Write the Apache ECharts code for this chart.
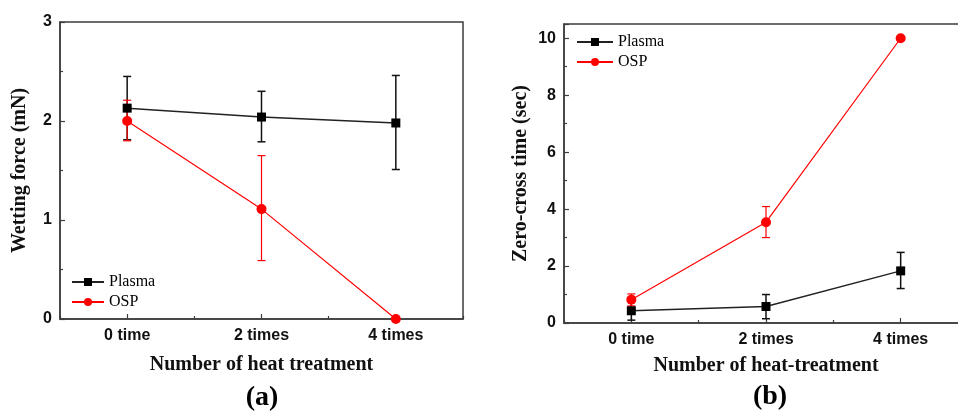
<!DOCTYPE html>
<html>
<head>
<meta charset="utf-8">
<script src="https://cdn.jsdelivr.net/npm/echarts@6/dist/echarts.min.js"></script>
<style>html,body{margin:0;padding:0;background:#fff;}#c{width:958px;height:415px;}</style>
</head>
<body>
<div id="c"></div>
<script>
const categories = ['0 time', '2 times', '4 times'];
// (a) Wetting force (mN)
const plasmaForce = [2.13, 2.04, 1.98];
const plasmaForceLow = [1.81, 1.79, 1.51];
const plasmaForceHigh = [2.45, 2.30, 2.46];
const ospForce = [2.00, 1.11, 0.00];
const ospForceLow = [1.80, 0.59, 0.00];
const ospForceHigh = [2.21, 1.65, 0.00];
// (b) Zero-cross time (sec)
const plasmaTime = [0.43, 0.58, 1.83];
const plasmaTimeLow = [0.10, 0.15, 1.21];
const plasmaTimeHigh = [0.78, 1.00, 2.48];
const ospTime = [0.82, 3.54, 10.0];
const ospTimeLow = [0.60, 3.00, 10.0];
const ospTimeHigh = [1.02, 4.09, 10.0];

const yTicksA = [0, 1, 2, 3];
const yTicksB = [0, 2, 4, 6, 8, 10];

const axisColor = '#3c3c3c';
const textColor = '#111';

function errData(lo, hi) {
  return lo.map((l, i) => [i, l, hi[i]]).filter(d => d[2] > d[1]);
}
function errRender(color, lw) {
  return function (params, api) {
    const x = api.value(0);
    const lo = api.coord([x, api.value(1)]);
    const hi = api.coord([x, api.value(2)]);
    const w = 4;
    const st = { stroke: color, lineWidth: lw };
    return {
      type: 'group',
      children: [
        { type: 'line', shape: { x1: lo[0], y1: lo[1], x2: hi[0], y2: hi[1] }, style: st },
        { type: 'line', shape: { x1: lo[0] - w, y1: lo[1], x2: lo[0] + w, y2: lo[1] }, style: st },
        { type: 'line', shape: { x1: hi[0] - w, y1: hi[1], x2: hi[0] + w, y2: hi[1] }, style: st }
      ]
    };
  };
}

function mainX(gridIndex, gap) {
  return {
    type: 'category', gridIndex: gridIndex, position: 'bottom', data: categories, boundaryGap: true,
    axisLine: { show: true, lineStyle: { color: axisColor, width: 1.5 } },
    axisTick: { show: true, inside: true, alignWithLabel: true, length: 5, lineStyle: { color: axisColor, width: 1.2 } },
    axisLabel: { color: textColor, fontFamily: 'Liberation Sans', fontWeight: 'bold', fontSize: 16, margin: 9 },
    name: gridIndex === 0 ? 'Number of heat treatment' : 'Number of heat-treatment',
    nameLocation: 'middle', nameGap: gap,
    nameTextStyle: { color: textColor, fontFamily: 'Liberation Serif', fontWeight: 'bold', fontSize: 20 },
    splitLine: { show: false }
  };
}
function minorX(gridIndex) {
  return {
    type: 'category', gridIndex: gridIndex, position: 'bottom', data: categories, boundaryGap: true,
    axisLine: { show: false },
    axisTick: { show: true, inside: true, length: 3, lineStyle: { color: axisColor, width: 1.2 } },
    axisLabel: { show: false },
    splitLine: { show: false }
  };
}
function yAx(gridIndex, max, interval, name, gap, ticks) {
  return {
    type: 'value', gridIndex: gridIndex, min: 0, max: max, interval: interval,
    axisLine: { show: true, lineStyle: { color: axisColor, width: 1.5 } },
    axisTick: { show: true, inside: true, length: 5, lineStyle: { color: axisColor, width: 1.2 } },
    minorTick: { show: true, splitNumber: 2, length: 3, lineStyle: { color: axisColor, width: 1.2 } },
    axisLabel: {
      color: textColor, fontFamily: 'Liberation Sans', fontWeight: 'bold', fontSize: 16, margin: 8,
      formatter: v => (ticks.indexOf(v) >= 0 ? String(v) : '')
    },
    splitLine: { show: false }, minorSplitLine: { show: false },
    name: name, nameLocation: 'middle', nameGap: gap,
    nameTextStyle: { color: textColor, fontFamily: 'Liberation Serif', fontWeight: 'bold', fontSize: 20 }
  };
}

const legendText = { color: '#000', fontFamily: 'Liberation Serif', fontSize: 16 };

const option = {
  animation: false,
  backgroundColor: '#fff',
  grid: [
    { left: 60, top: 22, width: 403, height: 297, show: true, borderColor: axisColor, borderWidth: 1.5, backgroundColor: 'transparent', outerBoundsMode: 'none', containLabel: false },
    { left: 564, top: 24, width: 404, height: 299, show: true, borderColor: axisColor, borderWidth: 1.5, backgroundColor: 'transparent', outerBoundsMode: 'none', containLabel: false }
  ],
  xAxis: [mainX(0, 36), minorX(0), mainX(1, 33), minorX(1)],
  yAxis: [
    yAx(0, 3, 1, 'Wetting force (mN)', 30, yTicksA),
    yAx(1, 10.5, 2, 'Zero-cross time (sec)', 33, yTicksB)
  ],
  legend: [
    { orient: 'vertical', left: 71, top: 274, padding: 0, itemWidth: 32, itemHeight: 10, itemGap: 4, textStyle: legendText, data: ['Plasma', 'OSP'] },
    { orient: 'vertical', left: 576, top: 34, padding: 0, itemWidth: 36, itemHeight: 10, itemGap: 4, textStyle: legendText, data: ['Plasma', 'OSP'] }
  ],
  graphic: [
    { type: 'text', x: 262, y: 398, style: { text: '(a)', textAlign: 'center', textVerticalAlign: 'middle', font: 'bold 28px "Liberation Serif"', fill: '#000' } },
    { type: 'text', x: 770, y: 397, style: { text: '(b)', textAlign: 'center', textVerticalAlign: 'middle', font: 'bold 28px "Liberation Serif"', fill: '#000' } }
  ],
  series: [
    { type: 'custom', xAxisIndex: 0, yAxisIndex: 0, renderItem: errRender('#111', 1.5), data: errData(plasmaForceLow, plasmaForceHigh), encode: { x: 0, y: [1, 2] }, silent: true },
    { name: 'Plasma', type: 'line', xAxisIndex: 0, yAxisIndex: 0, data: plasmaForce, symbol: 'rect', symbolSize: 9, itemStyle: { color: '#000' }, lineStyle: { color: '#222', width: 1.5 } },
    { type: 'custom', xAxisIndex: 0, yAxisIndex: 0, renderItem: errRender('#ff0000', 1.2), data: errData(ospForceLow, ospForceHigh), encode: { x: 0, y: [1, 2] }, silent: true },
    { name: 'OSP', type: 'line', xAxisIndex: 0, yAxisIndex: 0, data: ospForce, symbol: 'circle', symbolSize: 10, itemStyle: { color: '#ff0000' }, lineStyle: { color: '#ff0000', width: 1.2 } },

    { type: 'custom', xAxisIndex: 2, yAxisIndex: 1, renderItem: errRender('#111', 1.5), data: errData(plasmaTimeLow, plasmaTimeHigh), encode: { x: 0, y: [1, 2] }, silent: true },
    { name: 'Plasma', type: 'line', xAxisIndex: 2, yAxisIndex: 1, data: plasmaTime, symbol: 'rect', symbolSize: 9, itemStyle: { color: '#000' }, lineStyle: { color: '#222', width: 1.5 } },
    { type: 'custom', xAxisIndex: 2, yAxisIndex: 1, renderItem: errRender('#ff0000', 1.2), data: errData(ospTimeLow, ospTimeHigh), encode: { x: 0, y: [1, 2] }, silent: true },
    { name: 'OSP', type: 'line', xAxisIndex: 2, yAxisIndex: 1, data: ospTime, symbol: 'circle', symbolSize: 10, itemStyle: { color: '#ff0000' }, lineStyle: { color: '#ff0000', width: 1.2 } }
  ]
};

const chart = echarts.init(document.getElementById('c'), null, { renderer: 'canvas' });
chart.setOption(option);
</script>
</body>
</html>
